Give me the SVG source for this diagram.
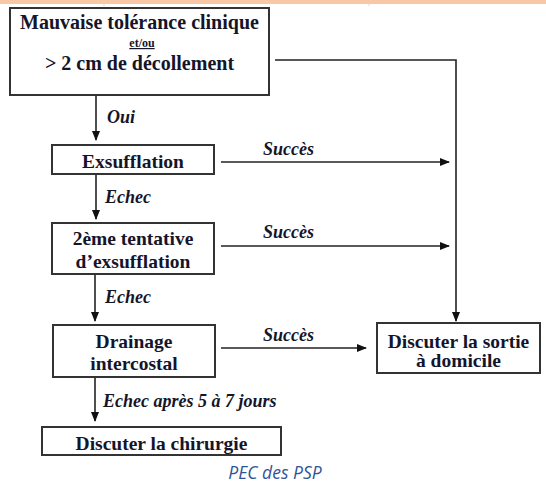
<svg xmlns="http://www.w3.org/2000/svg" width="546" height="483" viewBox="0 0 546 483">
<style>
.box{fill:#fff;stroke:#333;stroke-width:2}
.t{font-family:"Liberation Serif","Times New Roman",serif;font-weight:bold;font-size:19.5px;fill:#15152a;text-anchor:middle}
.lab{font-family:"Liberation Serif","Times New Roman",serif;font-weight:bold;font-style:italic;font-size:18px;fill:#15152a}
.ln{fill:none;stroke:#222;stroke-width:1.6}
.cap{font-family:"Open Sans","Noto Sans",sans-serif;font-style:italic;font-size:17.5px;fill:#2f5597;text-anchor:middle}
</style>
<defs>
<marker id="ah" markerUnits="userSpaceOnUse" markerWidth="10" markerHeight="8" refX="9" refY="4" orient="auto">
<path d="M0,0 L10,4 L0,8 Z" fill="#111"/>
</marker>
</defs>
<rect x="0" y="0" width="546" height="4" fill="#f7c7a6"/>
<line x1="104" y1="3" x2="104" y2="6" stroke="#f1d3c0" stroke-width="1"/>
<line x1="369" y1="3" x2="369" y2="6" stroke="#f1d3c0" stroke-width="1"/>

<g id="connectors">
<path class="ln" d="M275,60 H456 V321" marker-end="url(#ah)"/>
<line class="ln" x1="96" y1="95" x2="96" y2="140" marker-end="url(#ah)"/>
<line class="ln" x1="221" y1="162" x2="449" y2="162" marker-end="url(#ah)"/>
<line class="ln" x1="96" y1="174" x2="96" y2="219" marker-end="url(#ah)"/>
<line class="ln" x1="221" y1="246" x2="449" y2="246" marker-end="url(#ah)"/>
<line class="ln" x1="95" y1="275" x2="95" y2="321" marker-end="url(#ah)"/>
<line class="ln" x1="221" y1="348" x2="366" y2="348" marker-end="url(#ah)"/>
<line class="ln" x1="95" y1="377" x2="95" y2="421" marker-end="url(#ah)"/>
<text class="lab" x="107" y="123">Oui</text>
<text class="lab" x="263" y="155">Succès</text>
<text class="lab" x="105" y="203">Echec</text>
<text class="lab" x="263" y="238">Succès</text>
<text class="lab" x="105" y="303">Echec</text>
<text class="lab" x="263" y="341">Succès</text>
<text class="lab" x="103" y="407">Echec après 5 à 7 jours</text>
</g>

<g id="n1">
<rect class="box" x="10" y="8" width="259" height="87"/>
<text class="t" x="139.5" y="29" style="font-size:20px">Mauvaise tolérance clinique</text>
<text class="t" x="142" y="47" style="font-size:12px;text-decoration:underline">et/ou</text>
<text class="t" x="139.5" y="70" style="font-size:20px">&gt; 2 cm de décollement</text>
</g>
<g id="n2">
<rect class="box" x="52" y="145" width="162" height="29"/>
<text class="t" x="133" y="168">Exsufflation</text>
</g>
<g id="n3">
<rect class="box" x="52" y="223" width="162" height="51"/>
<text class="t" x="133" y="245">2ème tentative</text>
<text class="t" x="133" y="268">d’exsufflation</text>
</g>
<g id="n4">
<rect class="box" x="53" y="325" width="162" height="52"/>
<text class="t" x="134" y="348">Drainage</text>
<text class="t" x="134" y="370">intercostal</text>
</g>
<g id="n5">
<rect class="box" x="377" y="323" width="163" height="50"/>
<text class="t" x="458.5" y="348">Discuter la sortie</text>
<text class="t" x="458.5" y="367">à domicile</text>
</g>
<g id="n6">
<rect class="box" x="42" y="427" width="239" height="28"/>
<text class="t" x="161.5" y="450">Discuter la chirurgie</text>
</g>
<text class="cap" x="275" y="479">PEC des PSP</text>
</svg>
